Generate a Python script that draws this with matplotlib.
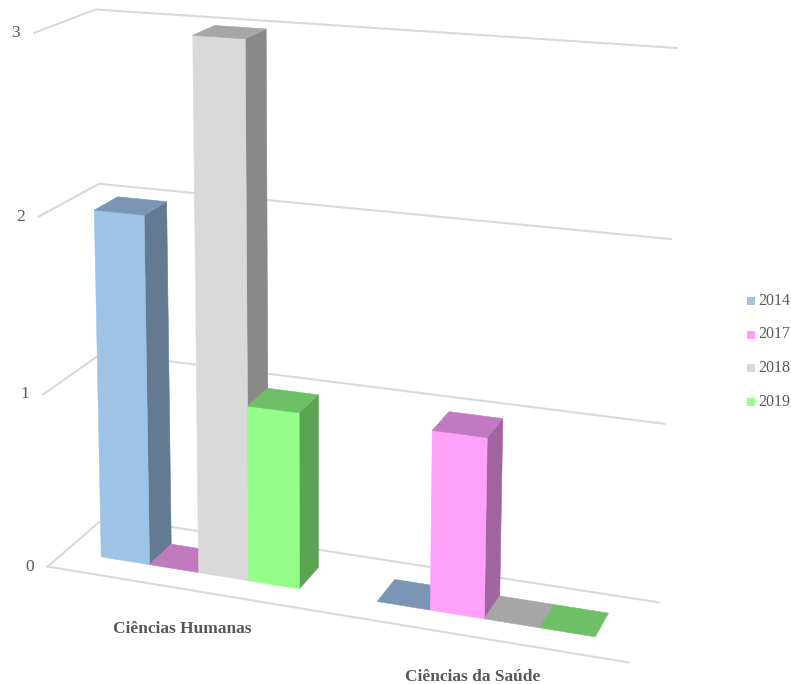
import numpy as np
import matplotlib.pyplot as plt
from matplotlib.patches import Polygon, Rectangle

categories = ["Ciências Humanas", "Ciências da Saúde"]
series = ["2014", "2017", "2018", "2019"]
v2014 = [2, 0]
v2017 = [0, 1]
v2018 = [3, 0]
v2019 = [1, 0]
y_ticks = [0, 1, 2, 3]

# face colours per series: front, top, side
front_col = ["#9dc3e6", "#ffa0fa", "#d9d9d9", "#94ff88"]
top_col = ["#7a96b4", "#c07ac0", "#a6a6a6", "#6ec066"]
side_col = ["#637a93", "#a064a0", "#898989", "#5ca454"]

# perspective camera: (category x, value, depth) -> pixel
P = np.array([
    [261.1995, -4.995486, 63.63790, 47.54806],
    [17.16024, -178.4241, -21.71793, 566.5379],
    [-0.04650346, -0.01585820, 0.05435632, 1.0],
])


def proj(x, y, z):
    h = P @ np.array([x, y, z, 1.0])
    return h[0] / h[2], h[1] / h[2]


gap_w = 1.5   # gap width, in bar widths
gap_d = 1.5   # gap depth, in bar depths
bw = 1.0 / (4 + gap_w)
z0 = gap_d / (2 * (1 + gap_d))
z1 = 1 - z0

fig = plt.figure(figsize=(7.91, 6.84), dpi=100)
ax = fig.add_axes([0, 0, 1, 1])
ax.set_xlim(0, 791)
ax.set_ylim(684, 0)
ax.axis("off")

txt_c = "#595959"
grid_c = "#d9d9d9"

# side wall + back wall gridlines and value labels
for t in y_ticks:
    a = proj(0, t, 0); b = proj(0, t, 1); c = proj(2, t, 1)
    ax.plot([a[0], b[0], c[0]], [a[1], b[1], c[1]], color=grid_c, lw=1.5, zorder=1)
    ax.text(a[0] - 14, a[1], str(t), ha="right", va="center", fontsize=12.5,
            family="Liberation Serif", color=txt_c)
# front edge of the floor
a = proj(0, 0, 0); c = proj(2, 0, 0)
ax.plot([a[0], c[0]], [a[1], c[1]], color=grid_c, lw=1.5, zorder=1)


def face(pts, col, z):
    ax.add_patch(Polygon([proj(*q) for q in pts], closed=True, fc=col, ec=col,
                         lw=0.4, zorder=z))


data = [v2014, v2017, v2018, v2019]
zo = 2
for ci in range(len(categories)):
    for si in range(len(series)):
        val = data[si][ci]
        xa = ci + gap_w * bw / 2 + si * bw
        xb = xa + bw
        if val > 0:
            face([(xb, 0, z0), (xb, 0, z1), (xb, val, z1), (xb, val, z0)], side_col[si], zo)
            face([(xa, 0, z0), (xb, 0, z0), (xb, val, z0), (xa, val, z0)], front_col[si], zo)
        face([(xa, val, z0), (xb, val, z0), (xb, val, z1), (xa, val, z1)], top_col[si], zo)
        zo += 1
    cx, cy = proj(ci + 0.5, 0, 0)
    ax.text(cx, cy + 40, categories[ci], ha="center", va="center", fontsize=12.5,
            fontweight="bold", family="Liberation Serif", color=txt_c)

# legend
for si, name in enumerate(series):
    y = 301 + si * 33.5
    ax.add_patch(Rectangle((747, y - 4), 8, 8, fc=front_col[si], ec="none"))
    ax.text(758, y, name, ha="left", va="center", fontsize=11.5,
            family="Liberation Serif", color=txt_c)

fig.savefig("out.png")
